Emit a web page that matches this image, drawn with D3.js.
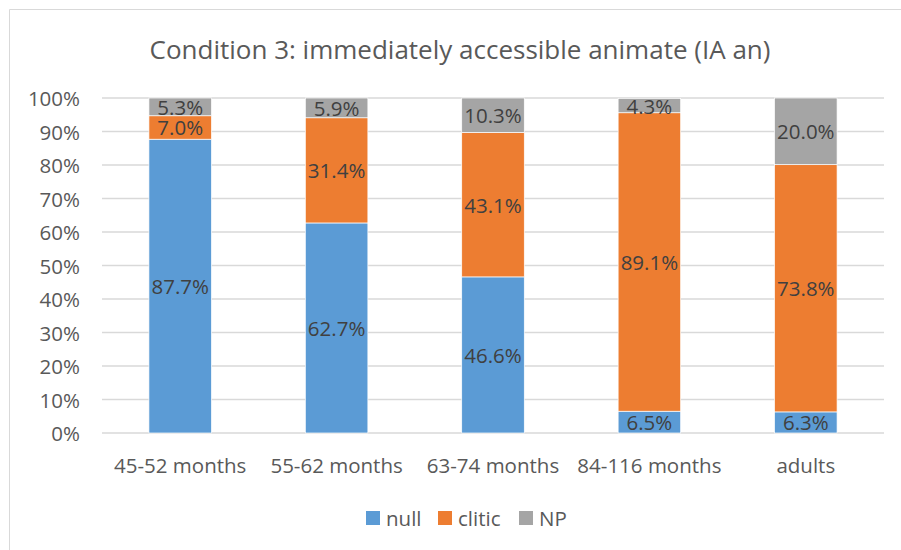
<!DOCTYPE html>
<html>
<head>
<meta charset="utf-8">
<script src="https://cdn.jsdelivr.net/npm/d3@7"></script>
<style>
  body { margin: 0; background: #fff; }
  svg { font-family: "Open Sans", "Noto Sans", sans-serif; }
</style>
</head>
<body>
<svg id="chart" width="901" height="550"></svg>
<script>
// chart data
var categories = ["45-52 months", "55-62 months", "63-74 months", "84-116 months", "adults"];
var seriesNames = ["null", "clitic", "NP"];
var nullVals   = [87.7, 62.7, 46.6, 6.5, 6.3];
var cliticVals = [7.0, 31.4, 43.1, 89.1, 73.8];
var npVals     = [5.3, 5.9, 10.3, 4.3, 20.0];
var yTicks = [0, 10, 20, 30, 40, 50, 60, 70, 80, 90, 100];
var colors = ["#5b9bd5", "#ed7d31", "#a5a5a5"];

var ctx = { left: 102, right: 884, top: 98, bottom: 433, fs: 20.5 };

var svg = d3.select("#chart");

// outer frame (only top and left visible in the crop)
svg.append("path")
  .attr("d", "M9.5,550 L9.5,9.5 L901,9.5")
  .attr("fill", "none").attr("stroke", "#d9d9d9").attr("stroke-width", 1);

svg.append("text")
  .attr("x", 460).attr("y", 59)
  .attr("text-anchor", "middle")
  .attr("font-size", 26).attr("fill", "#595959")
  .text("Condition 3: immediately accessible animate (IA an)");

var x = d3.scaleBand().domain(categories).range([ctx.left, ctx.right]).paddingInner(0.6).paddingOuter(0.3);
var y = d3.scaleLinear().domain([0, 100]).range([ctx.bottom, ctx.top]);

// gridlines
svg.append("g").selectAll("line").data(yTicks).enter().append("line")
  .attr("x1", ctx.left).attr("x2", ctx.right)
  .attr("y1", d => y(d)).attr("y2", d => y(d))
  .attr("stroke", "#d9d9d9").attr("stroke-width", 1.3);

// y tick labels
svg.append("g").selectAll("text").data(yTicks).enter().append("text")
  .attr("x", 80).attr("y", d => y(d))
  .attr("text-anchor", "end").attr("dominant-baseline", "central")
  .attr("font-size", ctx.fs).attr("fill", "#595959")
  .text(d => d + "%");

// x labels
svg.append("g").selectAll("text").data(categories).enter().append("text")
  .attr("x", d => x(d) + x.bandwidth() / 2).attr("y", 465)
  .attr("text-anchor", "middle").attr("dominant-baseline", "central")
  .attr("font-size", ctx.fs).attr("fill", "#595959")
  .text(d => d);

var rows = categories.map((c, i) => ({ cat: c, "null": nullVals[i], clitic: cliticVals[i], NP: npVals[i] }));
var stacked = d3.stack().keys(seriesNames)(rows);

var layers = svg.append("g").selectAll("g").data(stacked).enter().append("g")
  .attr("fill", (d, i) => colors[i]);

layers.selectAll("rect").data(d => d).enter().append("rect")
  .attr("x", d => x(d.data.cat))
  .attr("width", x.bandwidth())
  .attr("y", d => y(Math.min(d[1], 100)))
  .attr("height", d => y(d[0]) - y(Math.min(d[1], 100)))
  .attr("stroke", "#fff").attr("stroke-width", 0.7);

// data labels centred in each segment
layers.selectAll("text").data((d, i) => d.map(v => ({ v: v, key: d.key }))).enter().append("text")
  .attr("x", d => x(d.v.data.cat) + x.bandwidth() / 2)
  .attr("y", d => (y(d.v[0]) + y(Math.min(d.v[1], 100))) / 2)
  .attr("text-anchor", "middle").attr("dominant-baseline", "central")
  .attr("font-size", ctx.fs).attr("fill", "#404040")
  .text(d => d.v.data[d.key].toFixed(1) + "%");

// legend
var legend = svg.append("g").attr("transform", "translate(366,518)");
var offs = [0, 72, 153];
seriesNames.forEach(function(name, i) {
  legend.append("rect")
    .attr("x", offs[i]).attr("y", -7).attr("width", 14).attr("height", 14)
    .attr("fill", colors[i]);
  legend.append("text")
    .attr("x", offs[i] + 20).attr("y", 0)
    .attr("dominant-baseline", "central")
    .attr("font-size", ctx.fs).attr("fill", "#595959")
    .text(name);
});
</script>
</body>
</html>
